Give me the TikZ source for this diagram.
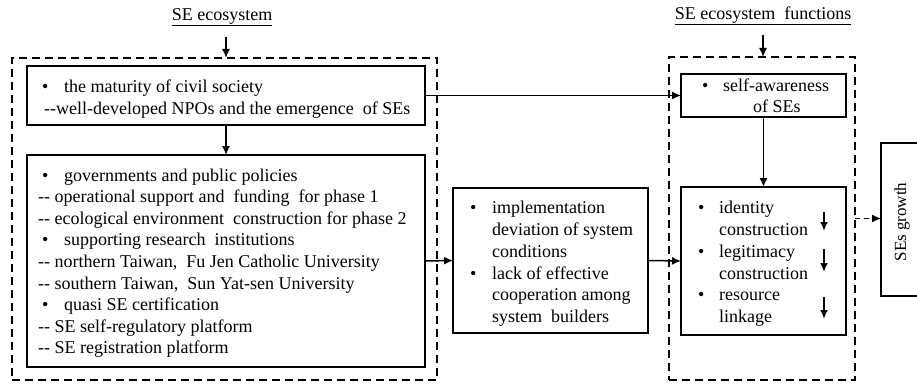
\documentclass[tikz,border=0pt]{standalone}
\usepackage{fontspec}
\setmainfont{Liberation Serif}
\usetikzlibrary{arrows.meta}
\newcommand{\dd}{-{}-}
\begin{document}
\begin{tikzpicture}[x=1pt,y=-1pt,
  box/.style={draw, line width=1.7pt, inner sep=0pt, outer sep=0pt},
  dbox/.style={draw, line width=1.7pt, dash pattern=on 8pt off 5pt, inner sep=0pt, outer sep=0pt},
  txt/.style={anchor=base west, inner sep=0pt, font=\fontsize{18}{21}\selectfont},
  lbl/.style={inner sep=0pt, font=\fontsize{18}{21}\selectfont},
  arr/.style={line width=1.5pt, -{Latex[length=9pt,width=8pt]}},
  sarr/.style={line width=1.9pt, -{Latex[length=9pt,width=8pt]}},
]
\useasboundingbox (0,0) rectangle (917,385);
% dashed frames
\node[dbox, minimum width=425pt, minimum height=322pt] (OL) at (224.5,219) {};
\node[dbox, minimum width=186pt, minimum height=323pt] (OR) at (762,218.5) {};
% boxes
\node[box, minimum width=398pt, minimum height=59pt] (A) at (226,95.5) {};
\node[box, minimum width=398pt, minimum height=212pt] (B) at (226,261) {};
\node[box, minimum width=195pt, minimum height=145pt] (C) at (550.5,260.5) {};
\node[box, minimum width=165pt, minimum height=43pt] (D) at (763.5,95.5) {};
\node[box, minimum width=165pt, minimum height=148pt] (E) at (763.5,261) {};
\node[box, minimum width=44pt, minimum height=153pt] (G) at (903,219.5) {};
\node[lbl, rotate=90, font=\fontsize{17}{20}\selectfont] (Gt) at (902,222) {SEs growth};
% labels
\node[lbl] (lblL) at (222,17) {\underline{SE ecosystem}};
\node[lbl] (lblR) at (763,16) {\underline{SE ecosystem\ \ functions}};
\coordinate (lL) at (226,37);
\coordinate (lR) at (763,35);
\draw[arr] (lL) -- (lL |- OL.north);
\draw[arr] (lR) -- (lR |- OR.north);
% box A text
\node[txt] (a1) at (42,93) {•};
\node[txt] (a2) at (64,93) {the maturity of civil society};
\node[txt] (a3) at (44,114) {\dd well-developed NPOs and the emergence\ \ of SEs};
% box B text
\node[txt] (b1b) at (42,181) {•};
\node[txt] (b1) at (64,181) {governments and public policies};
\node[txt] (b2) at (38,202.6) {\dd\ operational support and\ \ funding\ \ for phase 1};
\node[txt] (b3) at (38,224.2) {\dd\ ecological environment\ \ construction for phase 2};
\node[txt] (b4b) at (42,245.8) {•};
\node[txt] (b4) at (64,245.8) {supporting research\ \ institutions};
\node[txt] (b5) at (38,267.4) {\dd\ northern Taiwan,\ \ Fu Jen Catholic University};
\node[txt] (b6) at (38,289) {\dd\ southern Taiwan,\ \ Sun Yat-sen University};
\node[txt] (b7b) at (42,310.6) {•};
\node[txt] (b7) at (64,310.6) {quasi SE certification};
\node[txt] (b8) at (38,332.2) {\dd\ SE self-regulatory platform};
\node[txt] (b9) at (38,353.8) {\dd\ SE registration platform};
% box C text
\node[txt] (c1b) at (470,213) {•};
\node[txt] (c1) at (492,213) {implementation};
\node[txt] (c2) at (492,235) {deviation of system};
\node[txt] (c3) at (492,257) {conditions};
\node[txt] (c4b) at (470,279) {•};
\node[txt] (c4) at (492,279) {lack of effective};
\node[txt] (c5) at (492,300.5) {cooperation among};
\node[txt] (c6) at (492,322) {system\ \ builders};
% box D text
\node[txt] (d1b) at (702,92) {•};
\node[txt] (d1) at (723,92) {self-awareness};
\node[txt] (d2) at (753,113) {of SEs};
% box E text
\node[txt] (e1b) at (698,213) {•};
\node[txt] (e1) at (719,213) {identity};
\node[txt] (e2) at (719,235) {construction};
\node[txt] (e3b) at (698,257) {•};
\node[txt] (e3) at (719,257) {legitimacy};
\node[txt] (e4) at (719,279) {construction};
\node[txt] (e5b) at (698,300.5) {•};
\node[txt] (e5) at (719,300.5) {resource};
\node[txt] (e6) at (719,322) {linkage};
% small down arrows
\coordinate (s1a) at (824,212); \coordinate (s1b) at (824,231);
\coordinate (s2a) at (824,249); \coordinate (s2b) at (824,272);
\coordinate (s3a) at (824,297); \coordinate (s3b) at (824,319);
\draw[sarr] (s1a) -- (s1b);
\draw[sarr] (s2a) -- (s2b);
\draw[sarr] (s3a) -- (s3b);
% connectors
\draw[arr] (A.south) -- (B.north);
\draw[arr] (A.east) -- (D.west);
\draw[arr] (B.east) -- (C.west);
\draw[arr] (C.east) -- (E.west);
\draw[arr] (D.south) -- (E.north);
\draw[arr, dash pattern=on 5pt off 4pt] (OR.east) -- (G.west |- OR.east);
\end{tikzpicture}
\end{document}
